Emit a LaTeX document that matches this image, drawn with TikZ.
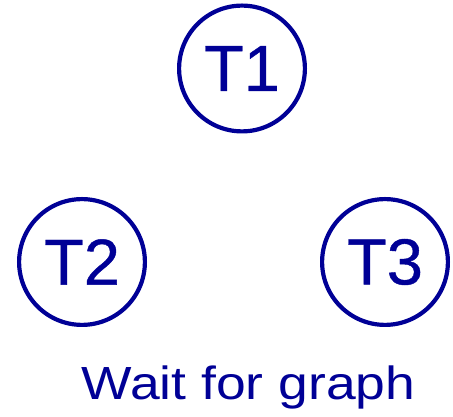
\documentclass[tikz,border=0pt]{standalone}
\usepackage{fontspec}
\setmainfont{Liberation Sans}
\newfontfamily\widesans[FakeStretch=1.15]{Liberation Sans}
\newfontfamily\tasksans[FakeBold=0.6]{Liberation Sans}
\definecolor{tblue}{RGB}{0,0,150}
\begin{document}
\begin{tikzpicture}[x=1pt,y=1pt,
  task/.style={circle,draw=tblue,line width=4.2pt,minimum size=125.8pt,inner sep=0pt,text=tblue,font=\tasksans\fontsize{65}{65}\selectfont},
  lbl/.style={text=tblue,font=\widesans\fontsize{46.5}{46.5}\selectfont,inner sep=0pt,anchor=base}]
\useasboundingbox (0,0) rectangle (453,417);
\node[task] (t1) at (242,348.5) {T1};
\node[task] (t2) at (82,155) {T2};
\node[task] (t3) at (385,155) {T3};
\node[lbl] (wait) at (248.5,17) {Wait for graph};
\end{tikzpicture}
\end{document}
